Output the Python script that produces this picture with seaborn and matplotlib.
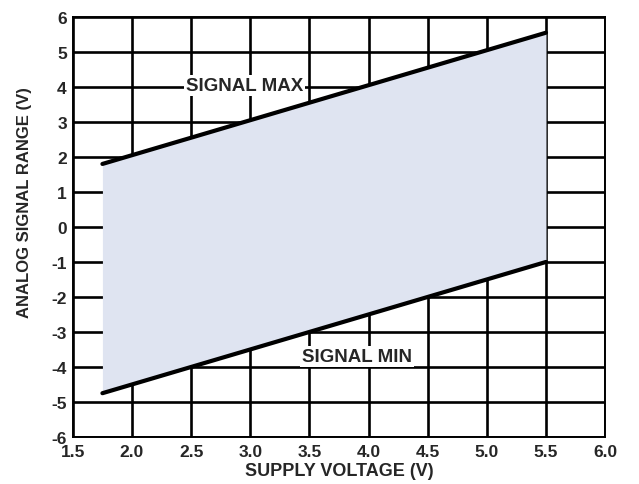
import matplotlib
matplotlib.use("Agg")
import matplotlib.pyplot as plt
import seaborn as sns
import pandas as pd

# supply voltage endpoints and the analog signal limits
supply_v = [1.75, 5.5]
signal_max = [1.8, 5.55]
signal_min = [-4.75, -1.0]

x_ticks = [1.5, 2.0, 2.5, 3.0, 3.5, 4.0, 4.5, 5.0, 5.5, 6.0]
y_ticks = [-6, -5, -4, -3, -2, -1, 0, 1, 2, 3, 4, 5, 6]

df = pd.DataFrame({"supply": supply_v, "max": signal_max, "min": signal_min})

sns.set_style("white")
plt.rcParams["font.family"] = ["Liberation Sans", "DejaVu Sans"]

fig = plt.figure(figsize=(6.39, 4.85), dpi=100)
ax = fig.add_axes([0.114, 0.097, 0.833, 0.866])

ax.fill_between(df["supply"], df["min"], df["max"], color="#dfe4f1", zorder=1, lw=0)
sns.lineplot(data=df, x="supply", y="max", color="black", lw=3, ax=ax, zorder=3)
sns.lineplot(data=df, x="supply", y="min", color="black", lw=3, ax=ax, zorder=3)

ax.set_xlim(1.5, 6.0)
ax.set_ylim(-6, 6)
ax.set_xticks(x_ticks)
ax.set_yticks(y_ticks)
ax.set_xticklabels([f"{v:.1f}" for v in x_ticks], fontweight="bold", fontsize=12.5)
ax.set_yticklabels([str(v) for v in y_ticks], fontweight="bold", fontsize=12.5)
ax.set_axisbelow(True)
ax.grid(True, color="black", lw=1.9, zorder=0.5)
ax.tick_params(axis="x", length=0, pad=5)
ax.tick_params(axis="y", length=0, pad=4.3)
for s in ax.spines.values():
    s.set_color("black")
    s.set_linewidth(1.4)

ax.set_xlabel("SUPPLY VOLTAGE (V)", fontsize=13, fontweight="bold")
ax.set_ylabel("ANALOG SIGNAL RANGE (V)", fontsize=12, fontweight="bold")
ax.xaxis.set_label_coords(0.5, -0.081)
ax.xaxis.label.set_va("center")
ax.yaxis.set_label_coords(-0.09, 0.56)
ax.yaxis.label.set_va("center")

box = dict(facecolor="white", edgecolor="none", pad=1.5)
ax.text(2.95, 4.05, "SIGNAL MAX", ha="center", va="center", fontsize=13.5,
        fontweight="bold", bbox=box, zorder=4)
ax.text(3.9, -3.7, "SIGNAL MIN", ha="center", va="center", fontsize=13.5,
        fontweight="bold", bbox=box, zorder=4)

fig.savefig("out.png", dpi=100)
